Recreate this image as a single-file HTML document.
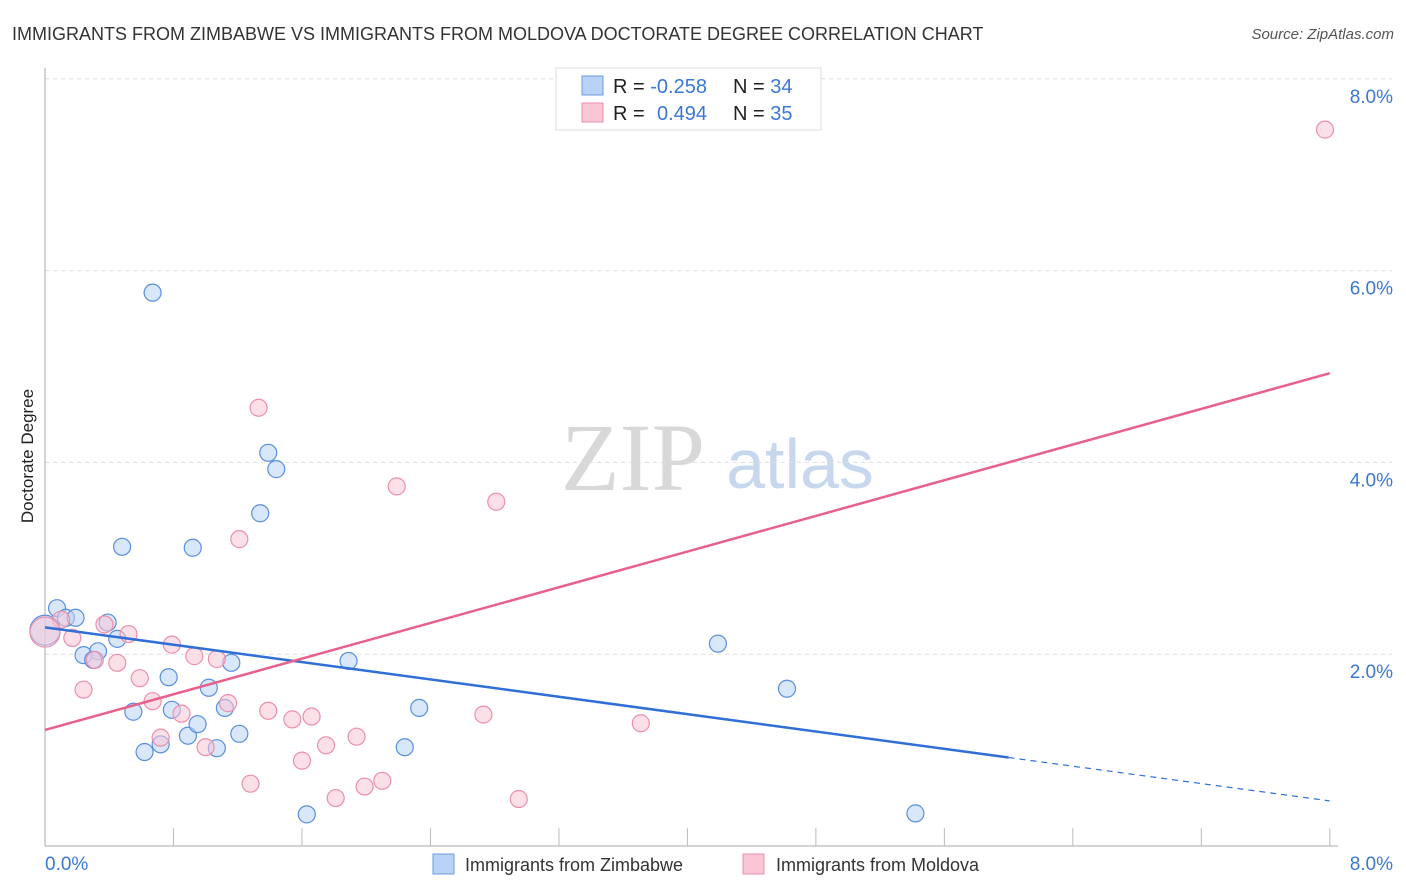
<!DOCTYPE html>
<html><head><meta charset="utf-8"><style>
body{margin:0;background:#fff;font-family:"Liberation Sans",sans-serif;}
svg{display:block}
</style></head><body>
<svg id="chart" width="1406" height="892" xmlns="http://www.w3.org/2000/svg">
<text x="12" y="40" font-size="18" fill="#333">IMMIGRANTS FROM ZIMBABWE VS IMMIGRANTS FROM MOLDOVA DOCTORATE DEGREE CORRELATION CHART</text>
<text x="1394" y="39" font-size="15" fill="#555" font-style="italic" text-anchor="end">Source: ZipAtlas.com</text>
<g>
<text x="633" y="490" font-size="96" fill="#d8d8d8" font-family="Liberation Serif,serif" text-anchor="middle">ZIP</text>
<text x="800" y="488" font-size="70" fill="#c7d8ee" text-anchor="middle">atlas</text>
</g>
<g id="grid"></g>
<g id="axes"></g>
<g id="marks"></g>
<text transform="translate(33,456) rotate(-90)" font-size="17" fill="#222" text-anchor="middle">Doctorate Degree</text>
<g>
<rect x="556" y="68" width="265" height="62" fill="#fff" stroke="#ddd"/>
<rect x="582" y="76" width="21" height="19" fill="#b8d3f5" stroke="#6a9be0"/>
<rect x="582" y="103" width="21" height="19" fill="#f9c6d6" stroke="#ec8fac"/>
<text x="613" y="93" font-size="20" fill="#222">R = <tspan fill="#3a78d6">-0.258</tspan></text>
<text x="733" y="93" font-size="20" fill="#222">N = <tspan fill="#3a78d6">34</tspan></text>
<text x="613" y="120" font-size="20" fill="#222">R =  <tspan fill="#3a78d6" x="657">0.494</tspan></text>
<text x="733" y="120" font-size="20" fill="#222">N = <tspan fill="#3a78d6">35</tspan></text>
</g>
<g>
<rect x="433" y="854" width="21" height="20" fill="#b8d3f5" stroke="#6a9be0"/>
<text x="465" y="871" font-size="18" fill="#333">Immigrants from Zimbabwe</text>
<rect x="743" y="854" width="21" height="20" fill="#f9c6d6" stroke="#ec8fac"/>
<text x="776" y="871" font-size="18" fill="#333">Immigrants from Moldova</text>
</g>
</svg>
<script>
const yTicks=[2,4,6,8];
const yTickLabels=["2.0%","4.0%","6.0%","8.0%"];
const xTickLabels=["0.0%","8.0%"];
const blueX=[0.075,0.13,0.19,0.39,0.45,0.33,0.24,0.30,0.48,0.67,0.92,0.77,0.55,0.62,0.72,0.79,0.89,0.95,1.02,1.07,1.12,1.16,1.21,1.34,1.39,1.44,1.89,1.63,2.24,2.33,4.19,4.62,5.42,0.0];
const blueY=[2.48,2.38,2.38,2.33,2.16,2.03,1.99,1.94,3.12,5.77,3.11,1.76,1.40,0.98,1.06,1.42,1.15,1.27,1.65,1.02,1.44,1.91,1.17,3.47,4.10,3.93,1.93,0.33,1.03,1.44,2.11,1.64,0.34,2.25];
const pinkX=[7.97,1.33,2.19,2.81,1.21,0.10,0.17,0.37,0.52,0.79,0.93,1.07,0.45,0.31,0.59,0.24,0.67,0.85,1.14,1.39,1.54,1.66,2.73,3.71,0.72,1.00,1.75,1.94,1.60,1.28,1.81,1.99,2.10,2.95,0.0];
const pinkY=[7.47,4.57,3.75,3.59,3.20,2.36,2.17,2.31,2.21,2.10,1.98,1.95,1.91,1.94,1.75,1.63,1.51,1.38,1.49,1.41,1.32,1.35,1.37,1.28,1.13,1.03,1.05,1.14,0.89,0.65,0.50,0.62,0.68,0.49,2.23];
const blueTrend=[2.28,0.47];
const pinkTrend=[1.21,4.93];
const blueSolidEnd=6.0;
const NS="http://www.w3.org/2000/svg";
const xs=v=>45+v*160.6, ys=v=>846-v*95.9;
function mk(t,a,p){const e=document.createElementNS(NS,t);for(const k in a)e.setAttribute(k,a[k]);p.appendChild(e);return e;}
const grid=document.getElementById('grid'),axes=document.getElementById('axes'),marks=document.getElementById('marks');
yTicks.forEach((t,i)=>{
 const l=mk('line',{x1:45,x2:1392,y1:ys(t),y2:ys(t),stroke:'#ddd','stroke-dasharray':'4,4'},grid);
 
 
 const tx=mk('text',{x:1393,y:ys(t)+24,'font-size':19,fill:'#3a78d6','text-anchor':'end'},axes);
 tx.textContent=yTickLabels[i];
 
 
});
const ya=mk('line',{x1:45,x2:45,y1:68,y2:846,stroke:'#aaa'},axes);


const xa=mk('line',{x1:45,x2:1338,y1:846,y2:846,stroke:'#aaa'},axes);


for(let i=1;i<=10;i++){const t=mk('line',{x1:xs(i*0.8),x2:xs(i*0.8),y1:828,y2:846,stroke:'#bbb'},axes);
 
 }
const x0=mk('text',{x:45,y:870,'font-size':19,fill:'#3a78d6'},axes);x0.textContent=xTickLabels[0];


const x1=mk('text',{x:1393,y:870,'font-size':19,fill:'#3a78d6','text-anchor':'end'},axes);x1.textContent=xTickLabels[1];


function pts(X,Y,fill,stroke,name){X.forEach((x,i)=>{const big=i===X.length-1;
 const c=mk('circle',{cx:xs(x),cy:ys(Y[i]),r:big?15:8.5,fill:fill,'fill-opacity':0.55,stroke:stroke,'stroke-width':1.2},marks);
 
 });}
pts(blueX,blueY,'#b8d3f5','#5b8fdc','zimbabwe-point');
pts(pinkX,pinkY,'#f9c6d6','#ec8fac','moldova-point');
const bt=x=>blueTrend[0]+(blueTrend[1]-blueTrend[0])*x/8, pt=x=>pinkTrend[0]+(pinkTrend[1]-pinkTrend[0])*x/8;
const b1=mk('line',{x1:xs(0),y1:ys(bt(0)),x2:xs(blueSolidEnd),y2:ys(bt(blueSolidEnd)),stroke:'#2f6fd6','stroke-width':2.5},marks);


const b2=mk('line',{x1:xs(blueSolidEnd),y1:ys(bt(blueSolidEnd)),x2:xs(8),y2:ys(bt(8)),stroke:'#2f6fd6','stroke-width':1.2,'stroke-dasharray':'6,5'},marks);


const p1=mk('line',{x1:xs(0),y1:ys(pt(0)),x2:xs(8),y2:ys(pt(8)),stroke:'#e8608c','stroke-width':2.5},marks);


</script>
</body></html>
